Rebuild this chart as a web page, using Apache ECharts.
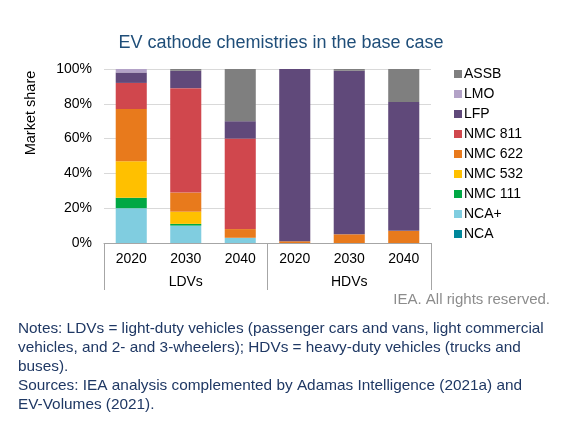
<!DOCTYPE html>
<html>
  <head>
    <meta charset="utf-8" />
    <title>EV cathode chemistries</title>
    <script src="https://cdn.jsdelivr.net/npm/echarts@6/dist/echarts.min.js"></script>
    <style>
      body { margin: 0; background: #fff; }
      #main { width: 562px; height: 425px; }
    </style>
  </head>
  <body>
    <div id="main"></div>
    <script type="text/javascript">
      // categories
      var years = ['2020', '2030', '2040', '2020', '2030', '2040'];
      var groups = ['LDVs', 'HDVs'];

      // shares in %, stacked bottom to top
      var nca    = [0, 0, 0, 0, 0, 0];
      var ncaPlus = [20, 10, 3, 0, 0, 0];
      var nmc111 = [6, 1, 0, 0, 0, 0];
      var nmc532 = [21, 7, 0, 0, 0, 0];
      var nmc622 = [30, 11, 5, 1, 5, 7];
      var nmc811 = [15, 60, 52, 0, 0, 0];
      var lfp    = [6, 10, 10, 99, 94, 74];
      var lmo    = [2, 0, 0, 0, 0, 0];
      var assb   = [0, 1, 30, 0, 1, 19];

      var seriesNames = ['NCA', 'NCA+', 'NMC 111', 'NMC 532', 'NMC 622', 'NMC 811', 'LFP', 'LMO', 'ASSB'];
      var seriesData = [nca, ncaPlus, nmc111, nmc532, nmc622, nmc811, lfp, lmo, assb];
      var colors = ['#00879a', '#80cde0', '#00a844', '#ffc000', '#e87a1c', '#d0474d', '#60497a', '#b3a2c7', '#7f7f7f'];

      var font = 'Liberation Sans, Arial, sans-serif';
      var myChart = echarts.init(document.getElementById('main'), null, { renderer: 'canvas' });

      var series = seriesNames.map(function (name, i) {
        return {
          name: name,
          type: 'bar',
          stack: 'share',
          barCategoryGap: '43%',
          data: seriesData[i],
          itemStyle: { color: colors[i] }
        };
      });

      var option = {
        animation: false,
        title: {
          text: 'EV cathode chemistries in the base case',
          left: 'center',
          top: 29,
          textStyle: { fontFamily: font, fontSize: 18, fontWeight: 'normal', color: '#1f4e79' }
        },
        legend: {
          orient: 'vertical',
          left: 449,
          top: 62,
          itemWidth: 8,
          itemHeight: 8,
          itemGap: 6,
          icon: 'rect',
          data: seriesNames.slice().reverse(),
          textStyle: { fontFamily: font, fontSize: 14, color: '#000', padding: [0, 0, 0, -3] }
        },
        grid: { left: 104, right: 131, top: 69, bottom: 182 },
        xAxis: [
          {
            type: 'category',
            data: years,
            axisLine: { lineStyle: { color: '#a6a6a6' } },
            axisTick: { show: false },
            axisLabel: { fontFamily: font, fontSize: 14, color: '#000', margin: 9 }
          },
          {
            type: 'category',
            data: groups,
            position: 'bottom',
            axisLine: { show: false },
            axisTick: { show: true, length: 47, interval: 0, lineStyle: { color: '#a6a6a6' } },
            axisLabel: { fontFamily: font, fontSize: 14, color: '#000', margin: 32 }
          }
        ],
        yAxis: {
          type: 'value',
          min: 0,
          max: 100,
          interval: 20,
          axisLine: { show: false },
          axisTick: { show: false },
          axisLabel: { formatter: '{value}%', fontFamily: font, fontSize: 14, color: '#000', margin: 12 },
          splitLine: { lineStyle: { color: '#d9d9d9' } }
        },
        graphic: [
          {
            type: 'text',
            x: 31,
            y: 113,
            rotation: Math.PI / 2,
            style: {
              text: 'Market share',
              font: '14.5px ' + font,
              fill: '#000',
              textAlign: 'center',
              textVerticalAlign: 'middle'
            }
          },
          {
            type: 'text',
            right: 12,
            top: 292,
            style: { text: 'IEA. All rights reserved.', font: '15px ' + font, fill: '#8c8c8c' }
          },
          {
            type: 'text',
            left: 18,
            top: 319,
            style: {
              text: 'Notes: LDVs = light-duty vehicles (passenger cars and vans, light commercial\nvehicles, and 2- and 3-wheelers); HDVs = heavy-duty vehicles (trucks and\nbuses).\nSources: IEA analysis complemented by Adamas Intelligence (2021a) and\nEV-Volumes (2021).',
              font: '15.35px ' + font,
              lineHeight: 19,
              fill: '#1f3864'
            }
          }
        ],
        series: series
      };

      myChart.setOption(option);
    </script>
  </body>
</html>
